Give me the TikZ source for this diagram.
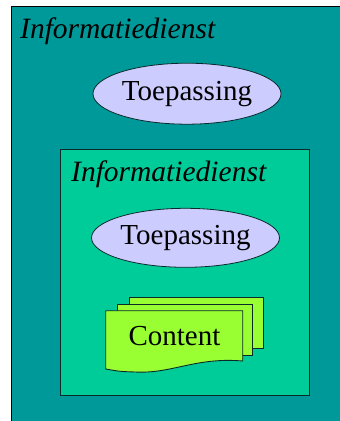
\documentclass[tikz,border=0pt]{standalone}
\usepackage{fontspec}
\setmainfont{Liberation Serif}
\usetikzlibrary{shapes.geometric}
\definecolor{outerteal}{HTML}{009999}
\definecolor{innergreen}{HTML}{00CC99}
\definecolor{applav}{HTML}{CCCCFF}
\definecolor{docgreen}{HTML}{99FF33}
\definecolor{edge}{HTML}{0A2A2A}
\tikzset{
  svcbox/.style={draw=edge, line width=0.9pt},
  title/.style={anchor=base west, inner sep=0pt, font=\fontsize{29.5}{32}\selectfont\itshape},
  appl/.style={ellipse, draw=edge, line width=0.8pt, fill=applav, inner sep=0pt,
    font=\fontsize{29}{32}\selectfont},
  docsheet/.style={draw=edge, line width=0.9pt, fill=docgreen},
  doclabel/.style={anchor=base, inner sep=0pt, font=\fontsize{29}{32}\selectfont}
}
\begin{document}
\begin{tikzpicture}[x=1pt,y=-1pt]
\useasboundingbox (0,0) rectangle (340,421);
\fill[white] (0,0) rectangle (340,421);
% outer service
\draw[svcbox, draw=black, fill=outerteal] (11.5,6.5) rectangle (345,430);
\node[title] (t1) at (20,38) {Informatiedienst};
\node[appl, minimum width=188pt, minimum height=61pt] (a1) at (187,93.7) {Toepassing};
% inner service
\draw[svcbox, fill=innergreen] (60.3,149) rectangle (309.3,395.3);
\node[title] (t2) at (71,181.7) {Informatiedienst};
\node[appl, minimum width=188pt, minimum height=59pt] (a2) at (185.5,237.8) {Toepassing};
% content stack
\draw[docsheet] (129,297.3) rectangle (263.3,348.3);
\draw[docsheet] (117.3,304) rectangle (252.3,355);
\draw[docsheet] (105.7,310.7) -- (242.7,310.7) -- (242.7,361)
  .. controls (195,357) and (172,374) .. (135,372)
  .. controls (120,371.5) .. (105.7,369) -- cycle;
\node[doclabel] (c) at (174.5,345) {Content};
\end{tikzpicture}
\end{document}
